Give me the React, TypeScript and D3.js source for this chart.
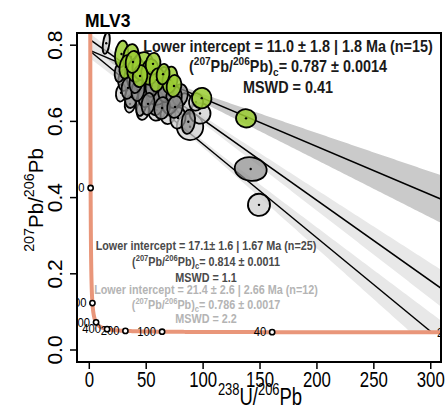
import React from 'react';
import * as d3 from 'd3';

const W = 446, H = 408;
const L238 = 1.55125e-10, L235 = 9.8485e-10, U85 = 137.818;

const xTicks = [0, 50, 100, 150, 200, 250, 300];
const yTicks = [0, 0.2, 0.4, 0.6, 0.8];
const concordiaAges = [20, 40, 100, 200, 400, 1000, 2000, 4000];

// ellipses: [238U/206Pb, 207Pb/206Pb, half-axis x, half-axis y]
const greenEllipses = [
  [28.3, 0.777, 5.6, 0.035], [36.6, 0.769, 6.8, 0.034], [32.2, 0.743, 5.6, 0.031],
  [41.0, 0.735, 7.6, 0.031], [47.2, 0.745, 9.2, 0.037], [53.3, 0.730, 7.6, 0.034],
  [56.0, 0.751, 6.4, 0.029], [44.6, 0.719, 6.4, 0.029], [59.5, 0.709, 6.4, 0.031],
  [70.9, 0.709, 6.6, 0.035], [74.4, 0.693, 6.4, 0.029], [64.8, 0.724, 5.6, 0.027],
  [98.8, 0.661, 8.6, 0.027], [137.7, 0.608, 8.8, 0.024], [38.4, 0.756, 6.4, 0.029],
];
const darkEllipses = [
  [31.1, 0.709, 5.6, 0.029], [39.9, 0.717, 6.8, 0.032], [47.2, 0.698, 6.8, 0.032],
  [53.1, 0.677, 6.8, 0.032], [61.9, 0.669, 6.8, 0.032], [36.9, 0.664, 5.6, 0.029],
  [45.7, 0.648, 4.6, 0.034], [58.9, 0.648, 6.8, 0.032], [70.9, 0.648, 6.8, 0.029],
  [65.0, 0.714, 5.6, 0.029], [79.7, 0.669, 6.8, 0.029], [59.5, 0.677, 9.5, 0.034],
  [87.0, 0.599, 5.8, 0.032], [141.8, 0.475, 14.1, 0.031], [34.0, 0.688, 5.6, 0.029],
  [49.8, 0.669, 6.8, 0.032], [67.4, 0.682, 6.8, 0.032], [74.4, 0.664, 6.8, 0.029],
  [42.8, 0.682, 5.6, 0.029], [55.1, 0.693, 5.6, 0.029], [63.9, 0.635, 6.8, 0.029],
  [41.0, 0.703, 5.6, 0.029], [27.0, 0.730, 4.6, 0.027], [75.3, 0.638, 6.8, 0.029],
  [51.6, 0.646, 5.6, 0.029],
];
const lightEllipses = [
  [14.9, 0.805, 2.8, 0.028], [88.5, 0.586, 11.6, 0.035], [97.3, 0.621, 9.2, 0.027],
  [149.1, 0.381, 9.7, 0.029], [27.9, 0.675, 4.4, 0.023], [59.2, 0.630, 7.5, 0.028],
  [83.2, 0.646, 7.5, 0.028], [69.2, 0.619, 6.6, 0.026], [47.2, 0.630, 5.6, 0.026],
  [35.8, 0.646, 4.6, 0.023], [77.9, 0.609, 6.6, 0.028], [93.8, 0.651, 6.2, 0.023],
];

// regression fits: y-intercept (207Pb/206Pb)c and lower-intercept age (Ma)
const fitYIntercepts = [0.787, 0.816, 0.786];
const fitLowerAges = [11.0, 17.7, 21.4];
const bandA = [0.006, 0.008, 0.008];
const bandB = [2.5e-4, 2.0e-4, 2.2e-4];
const bandCenters = [60, 70, 80];

const textTop = ['Lower intercept = 11.0 ± 1.8 | 1.8 Ma (n=15)', '0.787 ± 0.0014', 'MSWD = 0.41'];
const textMid = ['Lower intercept = 17.1± 1.6 | 1.67 Ma (n=25)', '0.814 ± 0.0011', 'MSWD = 1.1'];
const textLow = ['Lower intercept = 21.4 ± 2.6 | 2.66 Ma (n=12)', '0.786 ± 0.0017', 'MSWD = 2.2'];

const concordiaX = (t: number) => 1 / (Math.exp(L238 * t * 1e6) - 1);
const concordiaY = (t: number) => (Math.exp(L235 * t * 1e6) - 1) / (U85 * (Math.exp(L238 * t * 1e6) - 1));

const FONT = '"Liberation Sans", Arial, Helvetica, sans-serif';

type Seg = [string, 'n' | 'sup' | 'sub'];
function Rich({ x, y, fs, segs, anchor = 'middle', sx = 1, rot = 0, fill = '#000', bold = false }:
  { x: number; y: number; fs: number; segs: Seg[]; anchor?: string; sx?: number; rot?: number; fill?: string; bold?: boolean }) {
  let cur = 0;
  const out = segs.map(([t, k], i) => {
    const target = k === 'sup' ? -0.42 * fs : k === 'sub' ? 0.28 * fs : 0;
    const dy = target - cur;
    cur = target;
    return (
      <tspan key={i} dy={dy} fontSize={k === 'n' ? fs : fs * 0.7}>{t}</tspan>
    );
  });
  return (
    <text transform={`translate(${x},${y}) rotate(${rot}) scale(${sx},1)`} textAnchor={anchor as any}
      fontFamily={FONT} fontSize={fs} fontWeight={bold ? 'bold' : 'normal'} fill={fill}>
      {out}
    </text>
  );
}

export default function App() {
  const left = 77, right = 441, top = 33, bottom = 362;
  const x = d3.scaleLinear().domain([-10.8, 309]).range([left, right]);
  const y = d3.scaleLinear().domain([-0.0315, 0.832]).range([bottom, top]);

  // concordia curve
  const lt0 = Math.log10(0.3), lt1 = Math.log10(5600);
  const ts = d3.range(0, 801).map(i => Math.pow(10, lt0 + (i * (lt1 - lt0)) / 800));
  const conc = ts.map(t => [concordiaX(t), concordiaY(t)] as [number, number]).filter(p => p[0] < 420);
  const concLine = d3.line<[number, number]>().x(d => x(d[0])).y(d => y(d[1]));

  const fits = fitYIntercepts.map((y0, i) => {
    const xl = concordiaX(fitLowerAges[i]);
    const yl = concordiaY(fitLowerAges[i]);
    const slope = (yl - y0) / xl;
    return { y0, xl, yl, slope, a: bandA[i], b: bandB[i], xc: bandCenters[i] };
  });
  const sample = d3.range(0, 341, 2);
  const bandPaths = fits.map(f => {
    const h = (v: number) => Math.sqrt(f.a * f.a + Math.pow(f.b * (v - f.xc), 2));
    return d3.area<number>()
      .x(v => x(v))
      .y0(v => y(f.y0 + f.slope * v - h(v)))
      .y1(v => y(f.y0 + f.slope * v + h(v)))(sample);
  });
  const bandColors = ['#cacaca', '#e8e8e8', '#e8e8e8'];

  const ellipse = (e: number[], fill: string, key: string) => {
    const cx = x(e[0]), cy = y(e[1]);
    const rx = x(e[2]) - x(0), ry = y(0) - y(e[3]);
    return (
      <g key={key}>
        <ellipse cx={cx} cy={cy} rx={rx} ry={ry} transform={`rotate(8 ${cx} ${cy})`}
          fill={fill} stroke="#000" strokeWidth={1.8} />
        <circle cx={cx} cy={cy} r={1.2} fill="#000" />
      </g>
    );
  };

  const topCx = 288, lowCx = 206;
  const dark = '#4a4a4a', light = '#b4b4b4';
  const ratioSegs = (val: string): Seg[] => [['(', 'n'], ['207', 'sup'], ['Pb/', 'n'], ['206', 'sup'], ['Pb)', 'n'], ['c', 'sub'], ['= ' + val, 'n']];

  return (
    <svg width={W} height={H} style={{ position: 'absolute', left: 0, top: 0, background: '#fff' }}>
      <defs>
        <clipPath id="plotClip"><rect x={left} y={top} width={right - left} height={bottom - top} /></clipPath>
        <clipPath id="bandClip"><rect x={left} y={top} width={right - left} height={y(0.047) - top} /></clipPath>
      </defs>
      <rect x={0} y={0} width={W} height={H} fill="#fff" />
      <g clipPath="url(#bandClip)">
        {bandPaths.map((p, i) => <path key={i} d={p || ''} fill={bandColors[i]} />)}
      </g>
      <g clipPath="url(#plotClip)">
        {fits.map((f, i) => (
          <line key={i} x1={x(0)} y1={y(f.y0)} x2={x(f.xl)} y2={y(f.yl)} stroke="#000" strokeWidth={1.5} />
        ))}
        <path d={concLine(conc) || ''} fill="none" stroke="#E9967A" strokeWidth={4} />
        {concordiaAges.map(t => {
          const px = x(concordiaX(t)), py = y(concordiaY(t));
          return (
            <g key={t}>
              <circle cx={px} cy={py} r={2.6} fill="#fff" stroke="#000" strokeWidth={1.6} />
              <text transform={`translate(${px - 6},${py + 4.3}) scale(0.9,1)`} textAnchor="end"
                fontFamily={FONT} fontSize={12.5} fill="#000">{t}</text>
            </g>
          );
        })}
        {lightEllipses.map((e, i) => ellipse(e, 'rgba(205,205,205,0.72)', 'l' + i))}
        {darkEllipses.map((e, i) => ellipse(e, 'rgba(140,140,140,0.72)', 'd' + i))}
        {greenEllipses.map((e, i) => ellipse(e, 'rgba(154,205,50,0.85)', 'g' + i))}
      </g>
      {/* frame */}
      <rect x={left} y={top} width={right - left} height={bottom - top} fill="none" stroke="#000" strokeWidth={2} />
      {/* x axis */}
      {xTicks.map(t => (
        <g key={t}>
          <line x1={x(t)} x2={x(t)} y1={bottom} y2={bottom + 7} stroke="#000" strokeWidth={1.5} />
          <text transform={`translate(${x(t)},387) scale(0.78,1)`} textAnchor="middle" fontFamily={FONT} fontSize={21.5}>{t}</text>
        </g>
      ))}
      {yTicks.map(t => (
        <g key={t}>
          <line x1={left - 7} x2={left} y1={y(t)} y2={y(t)} stroke="#000" strokeWidth={1.5} />
          <text transform={`translate(62,${y(t)}) rotate(-90)`} textAnchor="middle" fontFamily={FONT} fontSize={21}>{t.toFixed(1)}</text>
        </g>
      ))}
      <Rich x={260} y={405} fs={24} sx={0.77} segs={[['238', 'sup'], ['U/', 'n'], ['206', 'sup'], ['Pb', 'n']]} />
      <Rich x={43} y={200} fs={20.5} sx={1} rot={-90} segs={[['207', 'sup'], ['Pb/', 'n'], ['206', 'sup'], ['Pb', 'n']]} />
      <text x={85} y={27} fontFamily={FONT} fontSize={17.5} fontWeight="bold">MLV3</text>
      {/* top annotation */}
      <Rich x={topCx} y={52} fs={16} sx={0.9} bold fill="#1a1a1a" segs={[[textTop[0], 'n']]} />
      <Rich x={topCx} y={72} fs={16} sx={0.9} bold fill="#1a1a1a" segs={ratioSegs(textTop[1])} />
      <Rich x={topCx} y={93} fs={16} sx={0.9} bold fill="#1a1a1a" segs={[[textTop[2], 'n']]} />
      {/* lower annotations */}
      <Rich x={lowCx} y={250} fs={12} sx={0.9} bold fill={dark} segs={[[textMid[0], 'n']]} />
      <Rich x={lowCx} y={266} fs={12} sx={0.9} bold fill={dark} segs={ratioSegs(textMid[1])} />
      <Rich x={lowCx} y={282} fs={12} sx={0.9} bold fill={dark} segs={[[textMid[2], 'n']]} />
      <Rich x={lowCx} y={294} fs={12} sx={0.9} bold fill={light} segs={[[textLow[0], 'n']]} />
      <Rich x={lowCx} y={309} fs={12} sx={0.9} bold fill={light} segs={ratioSegs(textLow[1])} />
      <Rich x={lowCx} y={323} fs={12} sx={0.9} bold fill={light} segs={[[textLow[2], 'n']]} />
    </svg>
  );
}
